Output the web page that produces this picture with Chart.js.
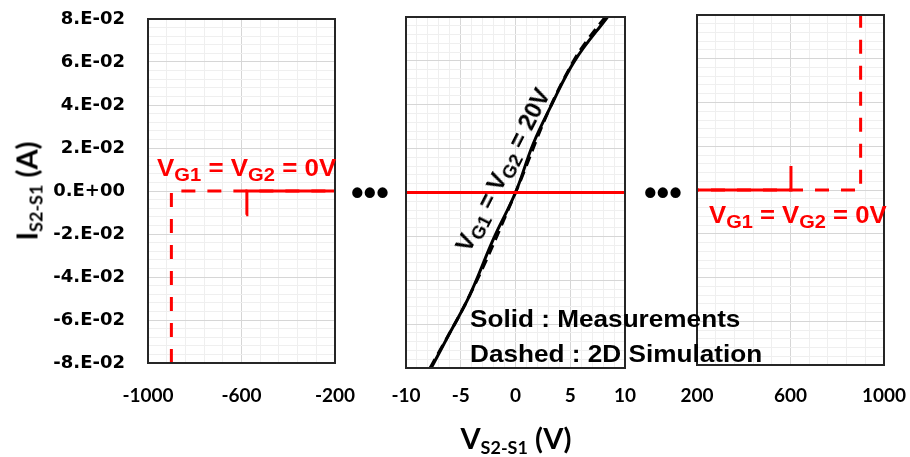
<!DOCTYPE html>
<html lang="en">
<head>
<meta charset="UTF-8">
<title>I-V S2-S1</title>
<script src="https://cdn.jsdelivr.net/npm/chart.js"></script>
<style>
    body { margin: 0; background: #fff; }
    #wrap { position: relative; width: 910px; height: 457px; overflow: hidden; }
    .panel { position: absolute; top: 0; height: 457px; }
    .txt { position: absolute; white-space: nowrap; font-weight: bold; line-height: 1; }
    .red { color: #ff0000; font-family: 'Liberation Sans', Arial, sans-serif; font-size: 24px; }
    .blk { color: #000; font-family: 'Liberation Sans', Arial, sans-serif; font-size: 24px; }
    .ax { color: #000; font-family: Lato, sans-serif; font-size: 29px; }
    sub { font-size: 78%; vertical-align: -0.25em; line-height: 0; }
    .ax sub { font-size: 62%; vertical-align: -0.3em; }
    .dots { position: absolute; font-family: 'Liberation Sans', Arial, sans-serif; font-size: 36px; font-weight: bold; line-height: 1; }
</style>
</head>
<body>
<div id="wrap">
    <div class="panel" style="left:0;width:360px"><canvas id="c-left" width="360" height="457"></canvas></div>
    <div class="panel" style="left:380px;width:270px"><canvas id="c-mid" width="270" height="457"></canvas></div>
    <div class="panel" style="left:670px;width:240px"><canvas id="c-right" width="240" height="457"></canvas></div>

    <div class="txt ax" style="left:26px;top:191px;transform:translate(-50%,-50%) rotate(-90deg)">I<sub>S2-S1</sub> (A)</div>
    <div class="txt ax" style="left:516px;top:437px;transform:translate(-50%,-50%)">V<sub>S2-S1</sub> (V)</div>

    <div class="txt red" style="left:157px;top:156px;transform:scaleX(1.08);transform-origin:left">V<sub>G1</sub> = V<sub>G2</sub> = 0V</div>
    <div class="txt red" style="left:709px;top:203px;transform:scaleX(1.07);transform-origin:left">V<sub>G1</sub> = V<sub>G2</sub> = 0V</div>
    <div class="txt blk" style="left:503px;top:170px;transform:translate(-50%,-50%) rotate(-63deg)">V<sub>G1</sub> = V<sub>G2</sub> = 20V</div>

    <div class="txt blk" style="left:470px;top:307px;transform:scaleX(1.09);transform-origin:left">Solid : Measurements</div>
    <div class="txt blk" style="left:470px;top:342px;transform:scaleX(1.09);transform-origin:left">Dashed : 2D Simulation</div>

    <div class="dots" style="left:351px;top:175px">&bull;&bull;&bull;</div>
    <div class="dots" style="left:644px;top:175px">&bull;&bull;&bull;</div>
</div>

<script>
    // tick labels
    const yTickValues = [-0.08, -0.06, -0.04, -0.02, 0, 0.02, 0.04, 0.06, 0.08];
    const leftXTicks = [-1000, -600, -200];
    const midXTicks = [-10, -5, 0, 5, 10];
    const rightXTicks = [200, 600, 1000];

    // left panel, VG1 = VG2 = 0V, negative side
    const leftMeasV = [-580, -577, -200];
    const leftMeasI = [-0.011, 0, 0];
    const leftSimV = [-900, -900, -200];
    const leftSimI = [-0.08, 0, 0];

    // middle panel, VG1 = VG2 = 20V and 0V
    const midMeasV = [-7.7, -6.0, -4.2, -2.0, 0, 1.6, 3.2, 5.4, 8.4];
    const midMeasI = [-0.080, -0.064, -0.047, -0.021, 0, 0.022, 0.039, 0.060, 0.080];
    const midSimV = [-7.8, -4.1, 0, 3.0, 5.2, 6.5, 8.2];
    const midSimI = [-0.080, -0.046, 0, 0.037, 0.059, 0.069, 0.080];
    const midZeroV = [-10, 10];
    const midZeroI = [0, 0];

    // right panel, VG1 = VG2 = 0V, positive side
    const rightMeasV = [200, 600, 602];
    const rightMeasI = [0, 0, 0.011];
    const rightSimV = [200, 900, 900];
    const rightSimI = [0, 0, 0.08];

    const RED = '#ff0000';
    const DASH = [14, 12];

    function pts(xs, ys) {
        return xs.map((x, i) => ({ x: x, y: ys[i] }));
    }

    function isIn(list, v) {
        return list.some(t => Math.abs(t - v) < 1e-9);
    }

    function yLabel(v) {
        if (Math.abs(v) < 1e-9) return '0.E+00';
        return (v < 0 ? '-' : '') + Math.round(Math.abs(v) * 100) + '.E-02';
    }

    // the scales add label overflow + tick padding to the layout, drop it so
    // that layout.padding alone places the plot area
    function noScalePadding(s) {
        s.paddingTop = 0;
        s.paddingBottom = 0;
        s.paddingLeft = 0;
        s.paddingRight = 0;
    }

    // frame round the plot area
    const framePlugin = {
        id: 'frame',
        afterDatasetsDraw(chart) {
            const a = chart.chartArea;
            const ctx = chart.ctx;
            ctx.save();
            ctx.strokeStyle = '#262626';
            ctx.lineWidth = 2;
            ctx.strokeRect(a.left, a.top, a.right - a.left, a.bottom - a.top);
            ctx.restore();
        }
    };

    function makePanel(id, opts) {
        const ctx = document.getElementById(id).getContext('2d');
        return new Chart(ctx, {
            type: 'line',
            data: { datasets: opts.datasets },
            options: {
                responsive: false,
                animation: false,
                layout: { padding: opts.padding },
                plugins: { legend: { display: false }, tooltip: { enabled: false } },
                elements: { point: { radius: 0 } },
                scales: {
                    x: {
                        type: 'linear',
                        min: opts.xMin,
                        max: opts.xMax,
                        border: { display: false },
                        grid: {
                            drawTicks: false,
                            color: c => isIn(opts.xTicks, c.tick.value) ? '#d6d6d6' : '#efefef'
                        },
                        ticks: {
                            stepSize: opts.xStep,
                            autoSkip: false,
                            maxRotation: 0,
                            padding: opts.xPad,
                            color: '#000',
                            font: { family: 'Lato', weight: 'bold', size: 19 },
                            callback: v => isIn(opts.xTicks, v) ? String(v) : ''
                        },
                        afterFit: s => { s.height = opts.xHeight; noScalePadding(s); }
                    },
                    y: {
                        type: 'linear',
                        min: -0.08,
                        max: 0.08,
                        border: { display: false },
                        grid: {
                            drawTicks: false,
                            color: c => isIn(yTickValues, c.tick.value) ? '#d6d6d6' : '#efefef'
                        },
                        ticks: {
                            display: opts.yLabels,
                            stepSize: 0.004,
                            autoSkip: false,
                            padding: 23,
                            color: '#000',
                            font: { family: 'DejaVu Sans', weight: 'bold', size: 18 },
                            callback: v => isIn(yTickValues, v) ? yLabel(v) : ''
                        },
                        afterFit: s => { s.width = opts.yWidth; noScalePadding(s); }
                    }
                }
            },
            plugins: [framePlugin]
        });
    }

    makePanel('c-left', {
        xMin: -1000, xMax: -200, xStep: 80, xTicks: leftXTicks,
        padding: { top: 19, right: 25, left: 0, bottom: 0 },
        xHeight: 94, xPad: 21, yWidth: 148, yLabels: true,
        datasets: [
            { data: pts(leftMeasV, leftMeasI), borderColor: RED, borderWidth: 3 },
            { data: pts(leftSimV, leftSimI), borderColor: RED, borderWidth: 3, borderDash: DASH }
        ]
    });

    makePanel('c-mid', {
        xMin: -10, xMax: 10, xStep: 1, xTicks: midXTicks,
        padding: { top: 17, right: 25, left: 26, bottom: 0 },
        xHeight: 89, xPad: 16, yWidth: 0, yLabels: false,
        datasets: [
            { data: pts(midZeroV, midZeroI), borderColor: RED, borderWidth: 3 },
            { data: pts(midMeasV, midMeasI), borderColor: '#000', borderWidth: 3, tension: 0.4 },
            { data: pts(midSimV, midSimI), borderColor: '#000', borderWidth: 3, borderDash: [10, 6], tension: 0.4 },
            { data: pts(midZeroV, midZeroI), borderColor: '#ff8080', borderWidth: 3, borderDash: DASH }
        ]
    });

    makePanel('c-right', {
        xMin: 200, xMax: 1000, xStep: 80, xTicks: rightXTicks,
        padding: { top: 15, right: 26, left: 27, bottom: 0 },
        xHeight: 92, xPad: 19, yWidth: 0, yLabels: false,
        datasets: [
            { data: pts(rightMeasV, rightMeasI), borderColor: RED, borderWidth: 3 },
            { data: pts(rightSimV, rightSimI), borderColor: RED, borderWidth: 3, borderDash: DASH, borderDashOffset: 12 }
        ]
    });
</script>
</body>
</html>
